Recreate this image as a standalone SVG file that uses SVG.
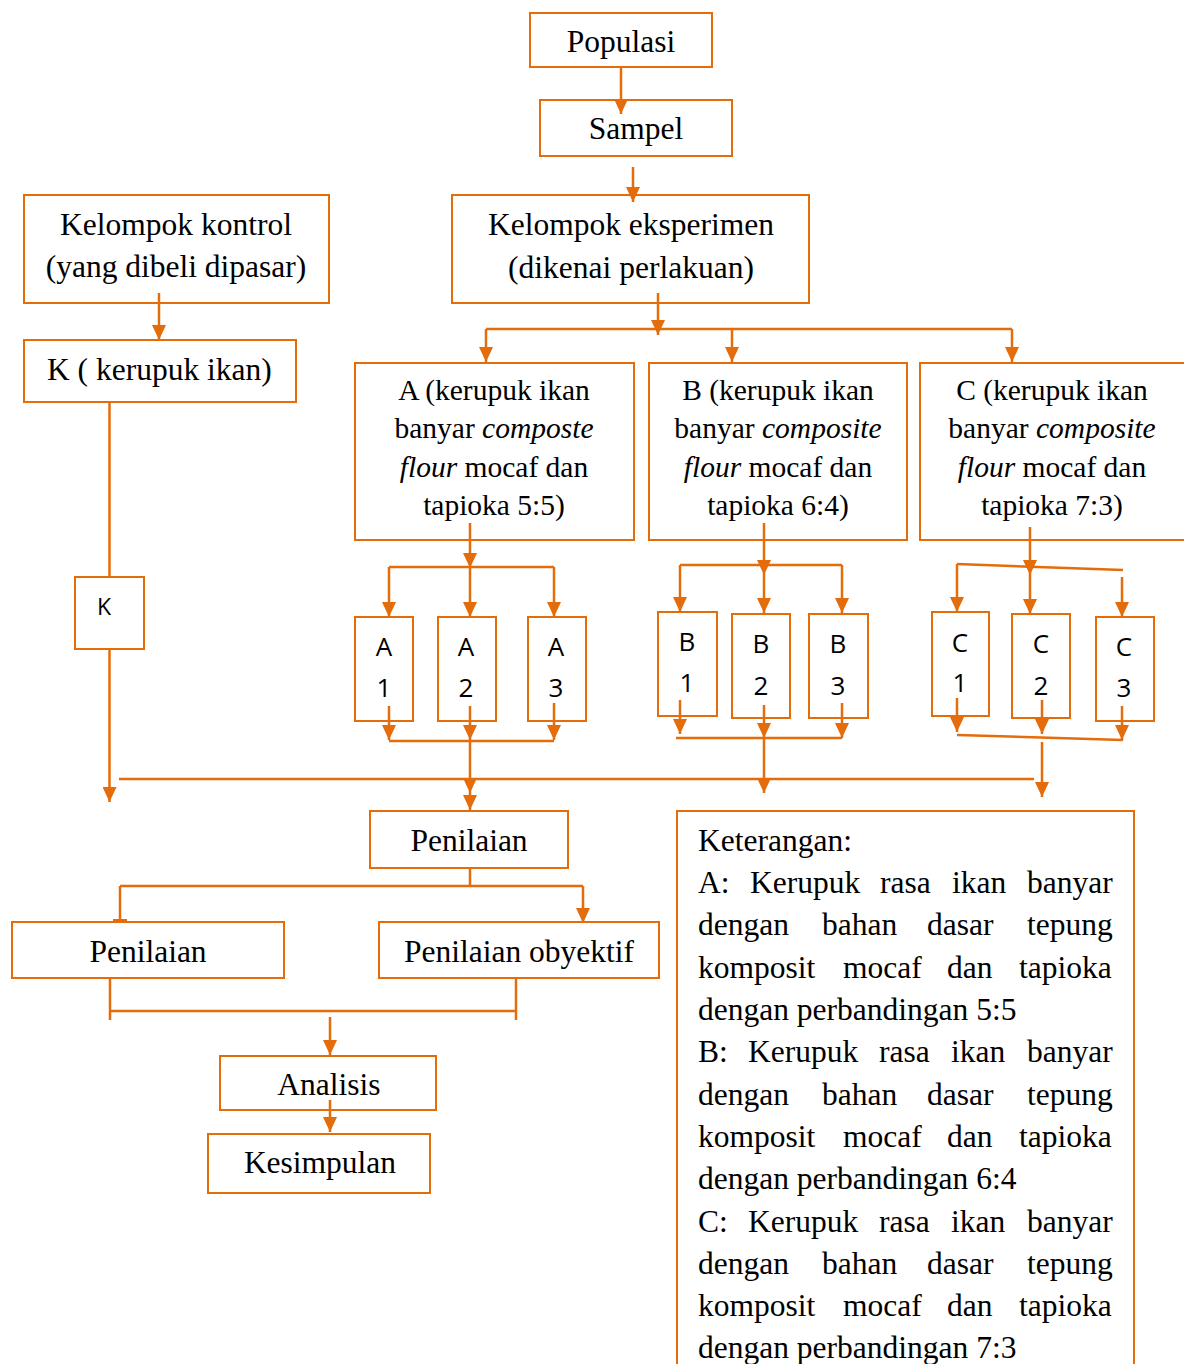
<svg xmlns="http://www.w3.org/2000/svg" width="1184" height="1364" viewBox="0 0 1184 1364">
  <style>
    .box { fill: #ffffff; stroke: #E46C0A; stroke-width: 2; }
    .lbl { font-family: "Liberation Serif", "Times New Roman", serif; font-size: 31.5px; fill: #000; }
    .mid { text-anchor: middle; }
    .sm { font-family: "Liberation Serif", "Times New Roman", serif; font-size: 29.5px; fill: #000; text-anchor: middle; }
    .sans { font-family: "Open Sans", "Liberation Sans", sans-serif; font-size: 26px; fill: #000; text-anchor: middle; }
    .it { font-style: italic; }
    .wire { fill: none; stroke: #E46C0A; stroke-width: 2.5; }
    .arr { marker-end: url(#ah); }
  </style>
  <defs>
    <marker id="ah" viewBox="0 0 15 14" refX="15" refY="7" markerWidth="15" markerHeight="14" markerUnits="userSpaceOnUse" orient="auto">
      <path d="M0,0 L15,7 L0,14 z" fill="#E46C0A"/>
    </marker>
  </defs>
  <rect width="1184" height="1364" fill="#ffffff"/>

  <!-- top chain -->
  <g id="populasi">
    <rect class="box" x="530" y="13" width="182" height="54"/>
    <text class="lbl mid" x="621" y="52">Populasi</text>
  </g>
  <g id="sampel">
    <rect class="box" x="540" y="100" width="192" height="56"/>
    <text class="lbl mid" x="636" y="139">Sampel</text>
  </g>
  <g id="eksperimen">
    <rect class="box" x="452" y="195" width="357" height="108"/>
    <text class="lbl mid" x="631" y="235">Kelompok eksperimen</text>
    <text class="lbl mid" x="631" y="278">(dikenai perlakuan)</text>
  </g>
  <g id="kontrol">
    <rect class="box" x="24" y="195" width="305" height="108"/>
    <text class="lbl mid" x="176" y="235">Kelompok kontrol</text>
    <text class="lbl mid" x="176" y="277">(yang dibeli dipasar)</text>
  </g>
  <g id="k-kerupuk">
    <rect class="box" x="24" y="340" width="272" height="62"/>
    <text class="lbl" x="47" y="380">K ( kerupuk ikan)</text>
  </g>
  <g id="k">
    <rect class="box" x="75" y="577" width="69" height="72"/>
    <text class="sans" x="104" y="615" style="font-size:23px">K</text>
  </g>

  <!-- treatment groups -->
  <g id="perlakuan-a">
    <rect class="box" x="355" y="363" width="279" height="177"/>
    <text class="sm" x="494" y="400">A (kerupuk ikan</text>
    <text class="sm" x="494" y="438">banyar <tspan class="it">composte</tspan></text>
    <text class="sm" x="494" y="477"><tspan class="it">flour</tspan> mocaf dan</text>
    <text class="sm" x="494" y="515">tapioka 5:5)</text>
  </g>
  <g id="perlakuan-b">
    <rect class="box" x="649" y="363" width="258" height="177"/>
    <text class="sm" x="778" y="400">B (kerupuk ikan</text>
    <text class="sm" x="778" y="438">banyar <tspan class="it">composite</tspan></text>
    <text class="sm" x="778" y="477"><tspan class="it">flour</tspan> mocaf dan</text>
    <text class="sm" x="778" y="515">tapioka 6:4)</text>
  </g>
  <g id="perlakuan-c">
    <rect class="box" x="920" y="363" width="274" height="177"/>
    <text class="sm" x="1052" y="400">C (kerupuk ikan</text>
    <text class="sm" x="1052" y="438">banyar <tspan class="it">composite</tspan></text>
    <text class="sm" x="1052" y="477"><tspan class="it">flour</tspan> mocaf dan</text>
    <text class="sm" x="1052" y="515">tapioka 7:3)</text>
  </g>

  <!-- replicates -->
  <g id="a1"><rect class="box" x="355" y="617" width="58" height="104"/><text class="sans" x="384" y="656">A</text><text class="sans" x="384" y="697">1</text></g>
  <g id="a2"><rect class="box" x="438" y="617" width="58" height="104"/><text class="sans" x="466" y="656">A</text><text class="sans" x="466" y="697">2</text></g>
  <g id="a3"><rect class="box" x="528" y="617" width="58" height="104"/><text class="sans" x="556" y="656">A</text><text class="sans" x="556" y="697">3</text></g>
  <g id="b1"><rect class="box" x="658" y="612" width="59" height="104"/><text class="sans" x="687" y="651">B</text><text class="sans" x="687" y="692">1</text></g>
  <g id="b2"><rect class="box" x="732" y="614" width="58" height="104"/><text class="sans" x="761" y="653">B</text><text class="sans" x="761" y="695">2</text></g>
  <g id="b3"><rect class="box" x="809" y="614" width="59" height="104"/><text class="sans" x="838" y="653">B</text><text class="sans" x="838" y="695">3</text></g>
  <g id="c1"><rect class="box" x="932" y="612" width="57" height="104"/><text class="sans" x="960" y="652">C</text><text class="sans" x="960" y="692">1</text></g>
  <g id="c2"><rect class="box" x="1012" y="614" width="58" height="104"/><text class="sans" x="1041" y="653">C</text><text class="sans" x="1041" y="695">2</text></g>
  <g id="c3"><rect class="box" x="1096" y="617" width="58" height="104"/><text class="sans" x="1124" y="656">C</text><text class="sans" x="1124" y="697">3</text></g>

  <!-- assessment and conclusion -->
  <g id="penilaian">
    <rect class="box" x="370" y="811" width="198" height="57"/>
    <text class="lbl mid" x="469" y="851">Penilaian</text>
  </g>
  <g id="penilaian-kiri">
    <rect class="box" x="12" y="922" width="272" height="56"/>
    <text class="lbl mid" x="148" y="962">Penilaian</text>
  </g>
  <g id="penilaian-obyektif">
    <rect class="box" x="379" y="922" width="280" height="56"/>
    <text class="lbl mid" x="519" y="962">Penilaian obyektif</text>
  </g>
  <g id="analisis">
    <rect class="box" x="220" y="1056" width="216" height="54"/>
    <text class="lbl mid" x="329" y="1095">Analisis</text>
  </g>
  <g id="kesimpulan">
    <rect class="box" x="208" y="1134" width="222" height="59"/>
    <text class="lbl mid" x="320" y="1173">Kesimpulan</text>
  </g>

  <!-- legend -->
  <g id="keterangan">
    <rect class="box" x="677" y="811" width="457" height="570"/>
    <text class="lbl" y="851"><tspan x="698">Keterangan:</tspan></text>
    <text class="lbl" y="893"><tspan x="698">A:</tspan><tspan x="750">Kerupuk</tspan><tspan x="880">rasa</tspan><tspan x="952">ikan</tspan><tspan x="1027">banyar</tspan></text>
    <text class="lbl" y="935"><tspan x="698">dengan</tspan><tspan x="822">bahan</tspan><tspan x="927">dasar</tspan><tspan x="1027">tepung</tspan></text>
    <text class="lbl" y="978"><tspan x="698">komposit</tspan><tspan x="843">mocaf</tspan><tspan x="947">dan</tspan><tspan x="1019">tapioka</tspan></text>
    <text class="lbl" y="1020"><tspan x="698">dengan perbandingan 5:5</tspan></text>
    <text class="lbl" y="1062"><tspan x="698">B:</tspan><tspan x="748">Kerupuk</tspan><tspan x="879">rasa</tspan><tspan x="951">ikan</tspan><tspan x="1027">banyar</tspan></text>
    <text class="lbl" y="1105"><tspan x="698">dengan</tspan><tspan x="822">bahan</tspan><tspan x="927">dasar</tspan><tspan x="1027">tepung</tspan></text>
    <text class="lbl" y="1147"><tspan x="698">komposit</tspan><tspan x="843">mocaf</tspan><tspan x="947">dan</tspan><tspan x="1019">tapioka</tspan></text>
    <text class="lbl" y="1189"><tspan x="698">dengan perbandingan 6:4</tspan></text>
    <text class="lbl" y="1232"><tspan x="698">C:</tspan><tspan x="748">Kerupuk</tspan><tspan x="879">rasa</tspan><tspan x="951">ikan</tspan><tspan x="1027">banyar</tspan></text>
    <text class="lbl" y="1274"><tspan x="698">dengan</tspan><tspan x="822">bahan</tspan><tspan x="927">dasar</tspan><tspan x="1027">tepung</tspan></text>
    <text class="lbl" y="1316"><tspan x="698">komposit</tspan><tspan x="843">mocaf</tspan><tspan x="947">dan</tspan><tspan x="1019">tapioka</tspan></text>
    <text class="lbl" y="1358"><tspan x="698">dengan perbandingan 7:3</tspan></text>
  </g>

  <!-- connectors -->
  <g id="connectors" class="wire">
    <path class="arr" d="M621,67 V114"/>
    <path class="arr" d="M633,167 V202"/>
    <path class="arr" d="M658,293 V335"/>
    <path d="M486,329 H1012"/>
    <path class="arr" d="M486,329 V362"/>
    <path class="arr" d="M732,329 V362"/>
    <path class="arr" d="M1012,329 V362"/>

    <path class="arr" d="M159,293 V340"/>
    <path d="M109.5,402 V577"/>
    <path class="arr" d="M109.5,649 V802"/>
    <path d="M119,779 H1034"/>

    <!-- A branch -->
    <path class="arr" d="M470,523 V568"/>
    <path class="arr" d="M470,568 V617"/>
    <path d="M389,567 H554"/>
    <path class="arr" d="M389,567 V617"/>
    <path class="arr" d="M554,567 V617"/>
    <path class="arr" d="M389,706 V740"/>
    <path class="arr" d="M470,706 V740"/>
    <path class="arr" d="M554,703 V740"/>
    <path d="M389,741 H554"/>
    <path class="arr" d="M470,741 V793"/>
    <path class="arr" d="M470,793 V810"/>

    <!-- B branch -->
    <path class="arr" d="M764,523 V575"/>
    <path class="arr" d="M764,575 V613"/>
    <path d="M680,565 H842"/>
    <path class="arr" d="M680,565 V612"/>
    <path class="arr" d="M842,565 V613"/>
    <path class="arr" d="M680,700 V734"/>
    <path class="arr" d="M764,705 V738"/>
    <path class="arr" d="M842,703 V738"/>
    <path d="M676,738 H842"/>
    <path class="arr" d="M764,738 V793"/>

    <!-- C branch -->
    <path class="arr" d="M1030,527 V575"/>
    <path class="arr" d="M1030,575 V614"/>
    <path d="M957,564 L1123,570"/>
    <path class="arr" d="M957,564 V612"/>
    <path class="arr" d="M1122,577 V617"/>
    <path class="arr" d="M957,698 V732"/>
    <path class="arr" d="M1042,700 V734"/>
    <path class="arr" d="M1122,706 V740"/>
    <path d="M957,735 L1123,740"/>
    <path class="arr" d="M1042,742 V797"/>

    <!-- assessment split -->
    <path d="M470,868 V886"/>
    <path d="M120,886 H583"/>
    <path d="M120,886 V922"/>
    <path d="M113,920.5 H127" style="stroke-width:3"/>
    <path class="arr" d="M583,886 V923"/>

    <!-- merge to analysis -->
    <path d="M110,978 V1020"/>
    <path d="M516,978 V1020"/>
    <path d="M110,1011 H516"/>
    <path class="arr" d="M330,1017 V1055"/>
    <path class="arr" d="M330,1100 V1132"/>
  </g>
</svg>
